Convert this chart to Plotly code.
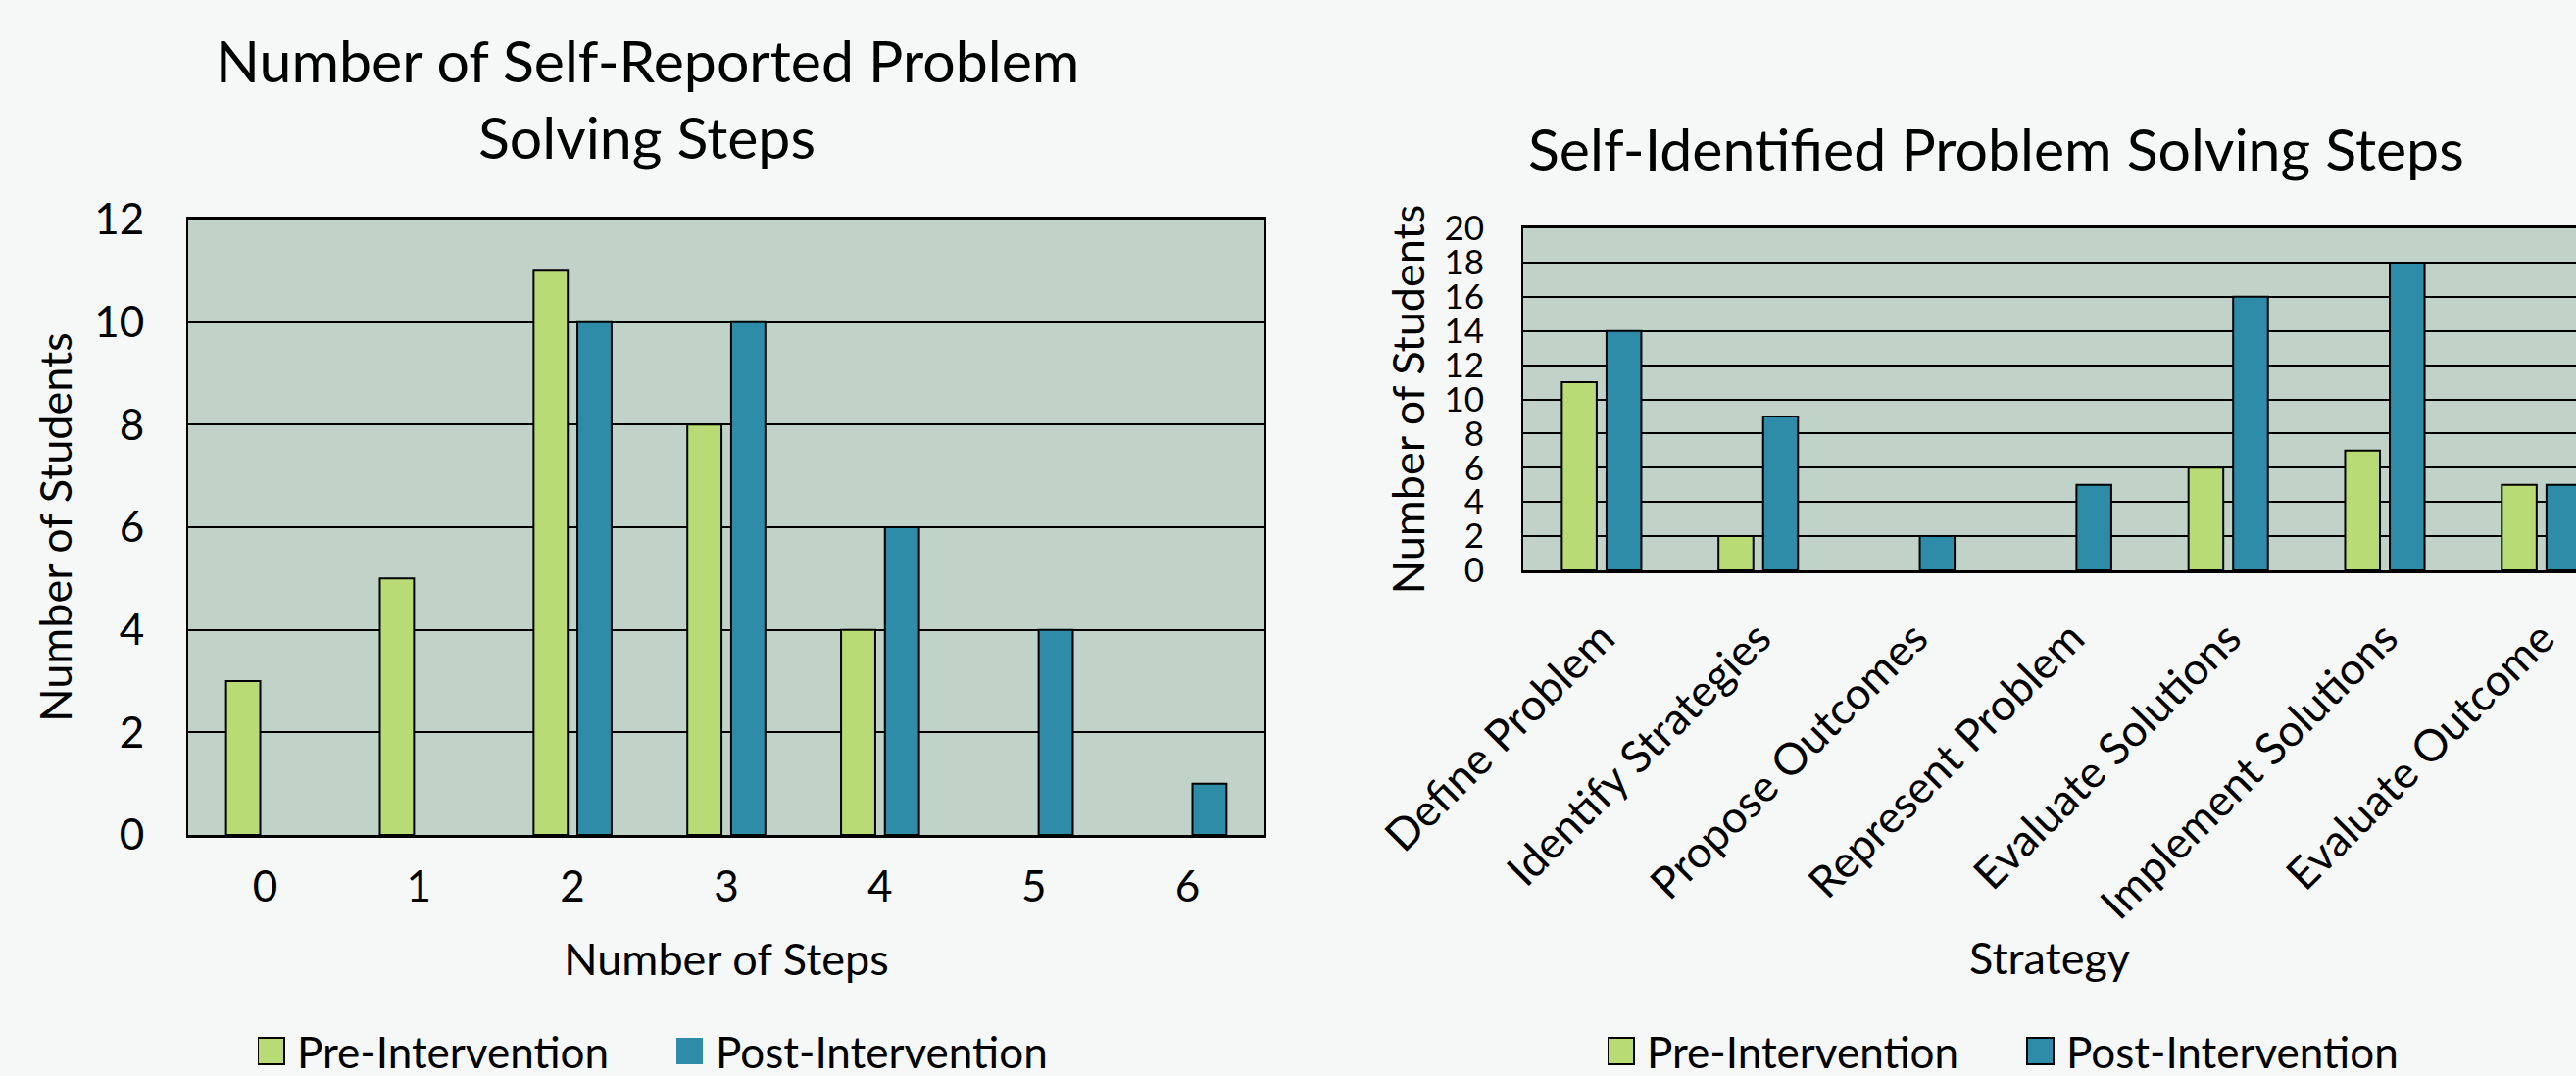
import plotly.graph_objects as go

# ---------------- data ----------------
steps = ["0", "1", "2", "3", "4", "5", "6"]
steps_pre = [3, 5, 11, 8, 4, 0, 0]
steps_post = [0, 0, 10, 10, 6, 4, 1]

strategies = ["Define Problem", "Identify Strategies", "Propose Outcomes",
              "Represent Problem", "Evaluate Solutions", "Implement Solutions",
              "Evaluate Outcome"]
strat_pre = [11, 2, 0, 0, 6, 7, 5]
strat_post = [14, 9, 2, 5, 16, 18, 5]

left_y_ticks = [0, 2, 4, 6, 8, 10, 12]
right_y_ticks = [0, 2, 4, 6, 8, 10, 12, 14, 16, 18, 20]

# ---------------- style ----------------
W, H = 2628, 1098
GREEN = "#B9DB76"
TEAL = "#2E8CA8"
PLOT_BG = "#C1D3C9"
PAGE_BG = "#F6F8F7"
FONT = "Lato"


def px_x(x):
    return x / W


def px_y(y):
    return 1 - y / H


def outline(vals):
    # zero-height bars show no outline in the original
    return dict(color="black", width=[0 if v == 0 else 2 for v in vals])


fig = go.Figure()

fig.add_trace(go.Bar(x=steps, y=steps_pre, name="Pre-Intervention",
                     marker=dict(color=GREEN, line=outline(steps_pre)),
                     xaxis="x", yaxis="y", legend="legend"))
fig.add_trace(go.Bar(x=steps, y=steps_post, name="Post-Intervention",
                     marker=dict(color=TEAL, line=outline(steps_post)),
                     xaxis="x", yaxis="y", legend="legend"))
fig.add_trace(go.Bar(x=strategies, y=strat_pre, name="Pre-Intervention",
                     marker=dict(color=GREEN, line=outline(strat_pre)),
                     xaxis="x2", yaxis="y2", legend="legend2"))
fig.add_trace(go.Bar(x=strategies, y=strat_post, name="Post-Intervention",
                     marker=dict(color=TEAL, line=outline(strat_post)),
                     xaxis="x2", yaxis="y2", legend="legend2"))

axis_font = dict(family=FONT, size=45, color="black")
legend_font = dict(family=FONT, size=44, color="black")
title_font = dict(family=FONT, size=59, color="black")

fig.update_layout(
    width=W, height=H,
    margin=dict(l=0, r=0, t=0, b=0, autoexpand=False),
    paper_bgcolor=PAGE_BG,
    plot_bgcolor=PLOT_BG,
    font=dict(family=FONT, color="black"),
    barmode="group",
    bargap=0.43,
    bargroupgap=0.22,
    showlegend=True,
    xaxis=dict(
        domain=[px_x(192), px_x(1290)],
        anchor="y",
        type="category",
        range=[-0.5, 6.5],
        showgrid=False,
        showline=True, linecolor="black", linewidth=2.5, mirror=True,
        ticks="", ticklabelstandoff=12,
        tickfont=dict(family=FONT, size=44, color="black"),
        title=dict(text="Number of Steps", font=axis_font, standoff=36),
        fixedrange=True,
    ),
    yaxis=dict(
        domain=[px_y(852), px_y(224)],
        anchor="x",
        range=[0, 12],
        tickvals=left_y_ticks,
        showgrid=True, gridcolor="black", gridwidth=2,
        zeroline=False,
        showline=True, linecolor="black", linewidth=2, mirror=True,
        ticks="", ticklabelstandoff=34,
        tickfont=dict(family=FONT, size=44, color="black"),
        title=dict(text="Number of Students", font=axis_font, standoff=8),
        fixedrange=True,
    ),
    xaxis2=dict(
        domain=[px_x(1554), 1.0],
        anchor="y2",
        type="category",
        range=[-0.5, 6.22],
        showgrid=False,
        showline=True, linecolor="black", linewidth=2.5, mirror=True,
        ticks="", ticklabelstandoff=22,
        tickangle=-45,
        tickfont=dict(family=FONT, size=45, color="black"),
        title=dict(text="Strategy", font=axis_font, standoff=16),
        fixedrange=True,
    ),
    yaxis2=dict(
        domain=[px_y(582), px_y(233)],
        anchor="x2",
        range=[0, 20],
        tickvals=right_y_ticks,
        showgrid=True, gridcolor="black", gridwidth=2,
        zeroline=False,
        showline=True, linecolor="black", linewidth=2, mirror=False,
        ticks="", ticklabelstandoff=31,
        tickfont=dict(family=FONT, size=35, color="black"),
        title=dict(text="Number of Students", font=axis_font, standoff=6),
        fixedrange=True,
    ),
    legend=dict(
        orientation="h", x=px_x(263), xanchor="left",
        y=px_y(1073), yanchor="middle",
        entrywidth=382, entrywidthmode="pixels",
        font=legend_font,
        bgcolor="rgba(0,0,0,0)", traceorder="normal",
        itemclick=False, itemdoubleclick=False,
    ),
    legend2=dict(
        orientation="h", x=px_x(1640), xanchor="left",
        y=px_y(1073), yanchor="middle",
        entrywidth=383, entrywidthmode="pixels",
        font=legend_font,
        bgcolor="rgba(0,0,0,0)", traceorder="normal",
        itemclick=False, itemdoubleclick=False,
    ),
    annotations=[
        dict(text="Number of Self-Reported Problem", xref="paper", yref="paper",
             x=px_x(660), y=px_y(61), xanchor="center", yanchor="middle",
             showarrow=False, font=title_font),
        dict(text="Solving Steps", xref="paper", yref="paper",
             x=px_x(660), y=px_y(139), xanchor="center", yanchor="middle",
             showarrow=False, font=title_font),
        dict(text="Self-Identified Problem Solving Steps", xref="paper", yref="paper",
             x=px_x(2036), y=px_y(151), xanchor="center", yanchor="middle",
             showarrow=False, font=title_font),
    ],
)

post = """
var gd = document.getElementById('{plot_id}');
function bigSym(){
  gd.querySelectorAll('g.legendpoints path').forEach(function(p){
    p.setAttribute('d','M7,13.5H-20V-13.5H7Z');
  });
}
bigSym();
gd.on('plotly_afterplot', bigSym);
setTimeout(bigSym, 50);
setTimeout(bigSym, 300);
"""

fig.write_html("out.html", config={"displayModeBar": False}, post_script=post)
